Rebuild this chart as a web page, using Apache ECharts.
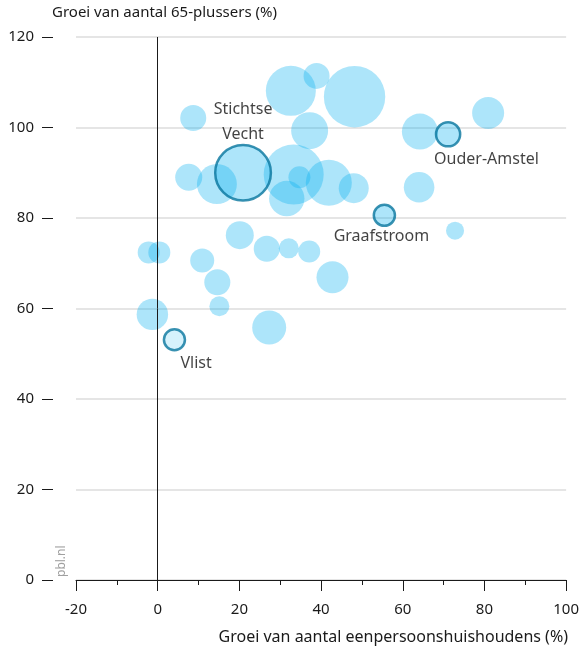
<!DOCTYPE html>
<html><head><meta charset="utf-8">
<script src="https://cdn.jsdelivr.net/npm/echarts@6/dist/echarts.min.js"></script>
<style>html,body{margin:0;padding:0;background:#fff}#c{width:582px;height:651px}</style>
</head><body><div id="c"></div>
<script>
// Tick values
const xTicks = [-20, 0, 20, 40, 60, 80, 100];
const yTicks = [0, 20, 40, 60, 80, 100, 120];

// Unlabelled municipalities
const eenpersoons = [38.9, 32.6, 48.2, 8.7, 37.2, 64.2, 80.9, 7.6, 14.5, 33.3, 34.7, 41.9, 31.6, 48.0, 64.0, 72.8, -2.2, 0.4, 20.1, 10.9, 26.7, 32.1, 37.1, 42.8, 14.6, 15.1, -1.3, 27.3];
const plussers65 = [111.4, 108.1, 106.8, 102.1, 99.3, 99.1, 103.2, 89.0, 87.5, 89.6, 89.0, 87.8, 84.3, 86.6, 86.8, 77.2, 72.4, 72.4, 76.2, 70.6, 73.2, 73.3, 72.6, 66.9, 65.8, 60.5, 58.7, 55.8];
const inwoners = [12.9, 47.6, 71.7, 12.9, 26, 24.7, 19.5, 13.9, 30.4, 68.5, 9.2, 40.3, 23.8, 17.1, 17.8, 6.2, 9.2, 9.2, 14.9, 11, 12.9, 7.6, 9.2, 19.5, 12.9, 7.6, 18.8, 22];

// Labelled municipalities
const gemeenten = ['Stichtse\nVecht', 'Ouder-Amstel', 'Graafstroom', 'Vlist'];
const gemEenpersoons = [20.9, 71.1, 55.5, 4.1];
const gemPlussers65 = [90.0, 98.5, 80.6, 53.1];
const gemInwoners = [59, 11.1, 8.5, 8.4];

const FONT = 'Noto Sans';
const sizeOf = v => 2 * 3.625 * Math.sqrt(v);

const base = eenpersoons.map((x, i) => [x, plussers65[i], inwoners[i]]);

const labelCfg = [
  {position: 'top', distance: -3, align: 'center', offset: [0, 0]},
  {position: 'bottom', distance: -1, align: 'left', offset: [-14, 0]},
  {position: 'bottom', distance: -3, align: 'center', offset: [-3, 0]},
  {position: 'bottom', distance: -1, align: 'left', offset: [6, 0]}
];
const hl = gemeenten.map((n, i) => ({
  name: n,
  value: [gemEenpersoons[i], gemPlussers65[i], gemInwoners[i]],
  itemStyle: i === 3 ? {color: 'rgba(0,174,239,0.2)'} : {},
  label: Object.assign({show: true, formatter: '{b}', color: '#111', fontSize: 16, fontFamily: FONT, lineHeight: 25}, labelCfg[i])
}));

const chart = echarts.init(document.getElementById('c'), null, {renderer: 'canvas'});
chart.setOption({
  animation: false,
  backgroundColor: '#fff',
  grid: {left: 76, right: 14, top: 37, bottom: 71},
  xAxis: {
    type: 'value', min: xTicks[0], max: xTicks[xTicks.length - 1], interval: 20,
    axisLine: {show: true, onZero: false, lineStyle: {color: '#1a1a1a', width: 1}},
    axisTick: {show: true, length: 11, lineStyle: {color: '#1a1a1a'}},
    minorTick: {show: true, splitNumber: 2, length: 5, lineStyle: {color: '#1a1a1a'}},
    splitLine: {show: false},
    axisLabel: {color: '#1a1a1a', fontSize: 15, fontFamily: FONT, margin: 22}
  },
  yAxis: {
    type: 'value', min: yTicks[0], max: yTicks[yTicks.length - 1], interval: 20,
    offset: 23,
    axisLine: {show: false, onZero: false},
    axisTick: {show: true, length: 11, lineStyle: {color: '#1a1a1a'}},
    splitLine: {show: true, lineStyle: {color: '#dcdcdc', width: 1.5}},
    axisLabel: {color: '#1a1a1a', fontSize: 15, fontFamily: FONT, margin: 19}
  },
  graphic: [
    {type: 'text', left: 52, top: 5, style: {text: 'Groei van aantal 65-plussers (%)', fill: '#1a1a1a', font: '15px "Noto Sans"'}},
    {type: 'text', right: 14, top: 629, style: {text: 'Groei van aantal eenpersoonshuishoudens (%)', fill: '#1a1a1a', font: '16px "Noto Sans"'}},
    {type: 'text', x: 56, y: 577, rotation: Math.PI / 2, style: {text: 'pbl.nl', fill: '#a0a0a0', font: '12px "Noto Sans"', align: 'left', verticalAlign: 'top'}}
  ],
  series: [
    {
      type: 'scatter', data: base,
      symbolSize: d => sizeOf(d[2]),
      itemStyle: {color: 'rgba(0,174,239,0.4)'},
      markLine: {
        silent: true, symbol: 'none', label: {show: false},
        lineStyle: {color: '#1a1a1a', width: 1, type: 'solid'},
        data: [{xAxis: 0}]
      }
    },
    {
      type: 'scatter', data: hl,
      symbolSize: d => sizeOf(d[2]),
      itemStyle: {color: 'rgba(0,174,239,0.4)', borderColor: '#08769e', borderWidth: 2.5}
    }
  ]
});
</script></body></html>
